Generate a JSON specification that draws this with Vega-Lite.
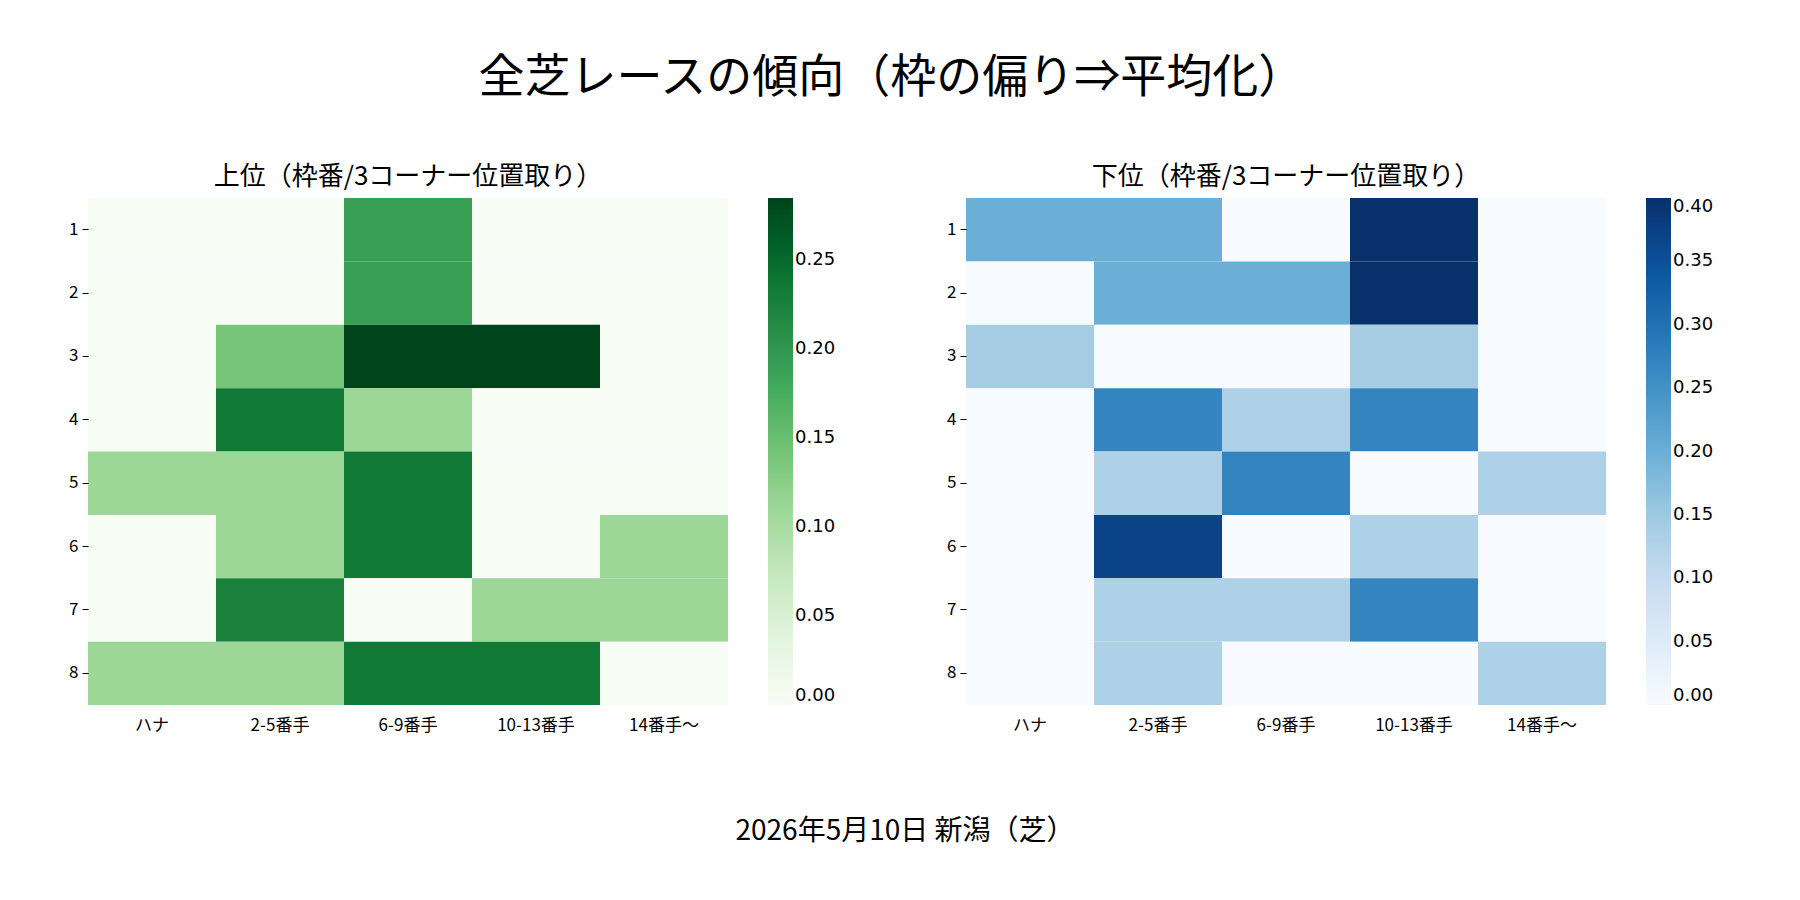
{
  "$schema": "https://vega.github.io/schema/vega-lite/v6.json",
  "padding": {"left": 68, "top": 55, "right": 20, "bottom": 10},
  "config": {
    "font": "Noto Sans CJK JP",
    "view": {"stroke": null},
    "axis": {"labelFont": "Noto Sans CJK JP", "labelFontSize": 17, "labelColor": "#000", "tickColor": "#000", "tickSize": 6, "domain": false, "grid": false, "title": null},
    "legend": {"labelFont": "DejaVu Sans", "labelFontSize": 18, "labelColor": "#000", "gradientLength": 507, "gradientThickness": 25, "offset": 40, "title": null, "tickCount": 8},
    "title": {"font": "Noto Sans CJK JP", "fontWeight": "normal", "color": "#000"}
  },
  "title": {"text": "全芝レースの傾向（枠の偏り⇒平均化）", "fontSize": 46, "anchor": "middle", "offset": 62},
  "datasets": {
    "top": [
      {"row": 1, "col": "ハナ", "v": 0}, {"row": 1, "col": "2-5番手", "v": 0}, {"row": 1, "col": "6-9番手", "v": 0.19}, {"row": 1, "col": "10-13番手", "v": 0}, {"row": 1, "col": "14番手〜", "v": 0},
      {"row": 2, "col": "ハナ", "v": 0}, {"row": 2, "col": "2-5番手", "v": 0}, {"row": 2, "col": "6-9番手", "v": 0.19}, {"row": 2, "col": "10-13番手", "v": 0}, {"row": 2, "col": "14番手〜", "v": 0},
      {"row": 3, "col": "ハナ", "v": 0}, {"row": 3, "col": "2-5番手", "v": 0.14}, {"row": 3, "col": "6-9番手", "v": 0.285}, {"row": 3, "col": "10-13番手", "v": 0.285}, {"row": 3, "col": "14番手〜", "v": 0},
      {"row": 4, "col": "ハナ", "v": 0}, {"row": 4, "col": "2-5番手", "v": 0.235}, {"row": 4, "col": "6-9番手", "v": 0.11}, {"row": 4, "col": "10-13番手", "v": 0}, {"row": 4, "col": "14番手〜", "v": 0},
      {"row": 5, "col": "ハナ", "v": 0.11}, {"row": 5, "col": "2-5番手", "v": 0.11}, {"row": 5, "col": "6-9番手", "v": 0.235}, {"row": 5, "col": "10-13番手", "v": 0}, {"row": 5, "col": "14番手〜", "v": 0},
      {"row": 6, "col": "ハナ", "v": 0}, {"row": 6, "col": "2-5番手", "v": 0.11}, {"row": 6, "col": "6-9番手", "v": 0.235}, {"row": 6, "col": "10-13番手", "v": 0}, {"row": 6, "col": "14番手〜", "v": 0.11},
      {"row": 7, "col": "ハナ", "v": 0}, {"row": 7, "col": "2-5番手", "v": 0.225}, {"row": 7, "col": "6-9番手", "v": 0}, {"row": 7, "col": "10-13番手", "v": 0.11}, {"row": 7, "col": "14番手〜", "v": 0.11},
      {"row": 8, "col": "ハナ", "v": 0.11}, {"row": 8, "col": "2-5番手", "v": 0.11}, {"row": 8, "col": "6-9番手", "v": 0.235}, {"row": 8, "col": "10-13番手", "v": 0.235}, {"row": 8, "col": "14番手〜", "v": 0}
    ],
    "bottom": [
      {"row": 1, "col": "ハナ", "v": 0.2}, {"row": 1, "col": "2-5番手", "v": 0.2}, {"row": 1, "col": "6-9番手", "v": 0}, {"row": 1, "col": "10-13番手", "v": 0.4}, {"row": 1, "col": "14番手〜", "v": 0},
      {"row": 2, "col": "ハナ", "v": 0}, {"row": 2, "col": "2-5番手", "v": 0.2}, {"row": 2, "col": "6-9番手", "v": 0.2}, {"row": 2, "col": "10-13番手", "v": 0.4}, {"row": 2, "col": "14番手〜", "v": 0},
      {"row": 3, "col": "ハナ", "v": 0.14}, {"row": 3, "col": "2-5番手", "v": 0}, {"row": 3, "col": "6-9番手", "v": 0}, {"row": 3, "col": "10-13番手", "v": 0.14}, {"row": 3, "col": "14番手〜", "v": 0},
      {"row": 4, "col": "ハナ", "v": 0}, {"row": 4, "col": "2-5番手", "v": 0.27}, {"row": 4, "col": "6-9番手", "v": 0.13}, {"row": 4, "col": "10-13番手", "v": 0.27}, {"row": 4, "col": "14番手〜", "v": 0},
      {"row": 5, "col": "ハナ", "v": 0}, {"row": 5, "col": "2-5番手", "v": 0.13}, {"row": 5, "col": "6-9番手", "v": 0.27}, {"row": 5, "col": "10-13番手", "v": 0}, {"row": 5, "col": "14番手〜", "v": 0.13},
      {"row": 6, "col": "ハナ", "v": 0}, {"row": 6, "col": "2-5番手", "v": 0.37}, {"row": 6, "col": "6-9番手", "v": 0}, {"row": 6, "col": "10-13番手", "v": 0.13}, {"row": 6, "col": "14番手〜", "v": 0},
      {"row": 7, "col": "ハナ", "v": 0}, {"row": 7, "col": "2-5番手", "v": 0.13}, {"row": 7, "col": "6-9番手", "v": 0.13}, {"row": 7, "col": "10-13番手", "v": 0.27}, {"row": 7, "col": "14番手〜", "v": 0},
      {"row": 8, "col": "ハナ", "v": 0}, {"row": 8, "col": "2-5番手", "v": 0.13}, {"row": 8, "col": "6-9番手", "v": 0}, {"row": 8, "col": "10-13番手", "v": 0}, {"row": 8, "col": "14番手〜", "v": 0.13}
    ],
    "footer": [{"t": "2026年5月10日 新潟（芝）"}]
  },
  "vconcat": [
    {
      "hconcat": [
        {
          "title": {"text": "上位（枠番/3コーナー位置取り）", "fontSize": 26, "offset": 8},
          "width": 640, "height": 507,
          "data": {"name": "top"},
          "mark": {"type": "rect", "strokeWidth": 0},
          "encoding": {
            "x": {"field": "col", "type": "nominal", "sort": ["ハナ", "2-5番手", "6-9番手", "10-13番手", "14番手〜"], "axis": {"labelAngle": 0, "labelPadding": 12, "ticks": false}},
            "y": {"field": "row", "type": "ordinal", "axis": {"labelPadding": 4}},
            "color": {"field": "v", "type": "quantitative", "scale": {"domain": [0, 0.285], "range": ["#f7fcf5", "#e5f5e0", "#c7e9c0", "#a1d99b", "#74c476", "#41ab5d", "#238b45", "#006d2c", "#00441b"]}, "legend": {"values": [0, 0.05, 0.1, 0.15, 0.2, 0.25], "format": ".2f"}}
          }
        },
        {
          "title": {"text": "下位（枠番/3コーナー位置取り）", "fontSize": 26, "offset": 8},
          "width": 640, "height": 507,
          "data": {"name": "bottom"},
          "mark": {"type": "rect", "strokeWidth": 0},
          "encoding": {
            "x": {"field": "col", "type": "nominal", "sort": ["ハナ", "2-5番手", "6-9番手", "10-13番手", "14番手〜"], "axis": {"labelAngle": 0, "labelPadding": 12, "ticks": false}},
            "y": {"field": "row", "type": "ordinal", "axis": {"labelPadding": 4}},
            "color": {"field": "v", "type": "quantitative", "scale": {"domain": [0, 0.4], "range": ["#f7fbff", "#deebf7", "#c6dbef", "#9ecae1", "#6baed6", "#4292c6", "#2171b5", "#08519c", "#08306b"]}, "legend": {"values": [0, 0.05, 0.1, 0.15, 0.2, 0.25, 0.3, 0.35, 0.4], "format": ".2f"}}
          }
        }
      ],
      "spacing": 110,
      "resolve": {"scale": {"color": "independent"}}
    },
    {
      "width": 1500, "height": 40,
      "data": {"name": "footer"},
      "mark": {"type": "text", "fontSize": 28, "font": "Noto Sans CJK JP", "color": "#000"},
      "encoding": {"text": {"field": "t"}, "x": {"value": 817}, "y": {"value": 69}}
    }
  ],
  "spacing": 30
}
